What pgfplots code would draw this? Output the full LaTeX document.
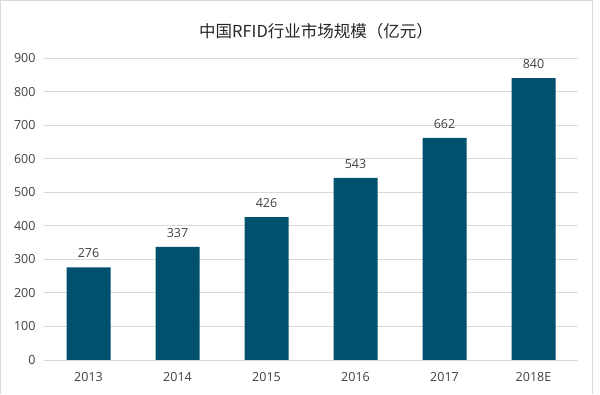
\documentclass[border=0pt]{standalone}
\usepackage{pgfplots}
\pgfplotsset{compat=1.18}
\usepackage{fontspec}
\setmainfont{Open Sans}
\newfontfamily\cjk{Noto Sans CJK SC}
\definecolor{barc}{RGB}{0,80,110}
\definecolor{gridc}{RGB}{217,217,217}
\definecolor{txt}{RGB}{64,64,64}
\begin{document}
\begin{tikzpicture}
\path[use as bounding box] (0pt,0pt) rectangle (600pt,394pt);
\draw[gridc, line width=1pt] (0.5pt,0pt) -- (0.5pt,393.5pt) -- (592pt,393.5pt) -- (592pt,0pt);
\node[font=\cjk\fontsize{16.5}{19}\selectfont, text=black!85] at (316pt,363pt) {中国RFID行业市场规模（亿元）};
\begin{axis}[
  at={(44pt,34pt)}, anchor=south west,
  scale only axis, width=534pt, height=302pt,
  ymin=0, ymax=900, ytick={0,100,...,900},
  xmin=-0.5, xmax=5.5,
  xtick=data, xticklabels={2013,2014,2015,2016,2017,2018E},
  ybar, bar width=44pt,
  ymajorgrids, grid style={gridc, line width=0.8pt},
  axis line style={draw=none},
  major tick length=0pt,
  tick label style={font=\fontsize{12.5}{14}\selectfont, text=txt},
  /pgf/number format/assume math mode=true,
  yticklabel style={xshift=-5pt},
  xticklabel style={yshift=-9pt},
  nodes near coords,
  every node near coord/.append style={font=\fontsize{12.5}{14}\selectfont, text=txt, yshift=6pt},
]
\addplot[fill=barc, draw=none] coordinates {(0,276) (1,337) (2,426) (3,543) (4,662) (5,840)};
\draw[gridc, line width=0.8pt] (rel axis cs:0,0) -- (rel axis cs:1,0);
\end{axis}
\end{tikzpicture}
\end{document}
